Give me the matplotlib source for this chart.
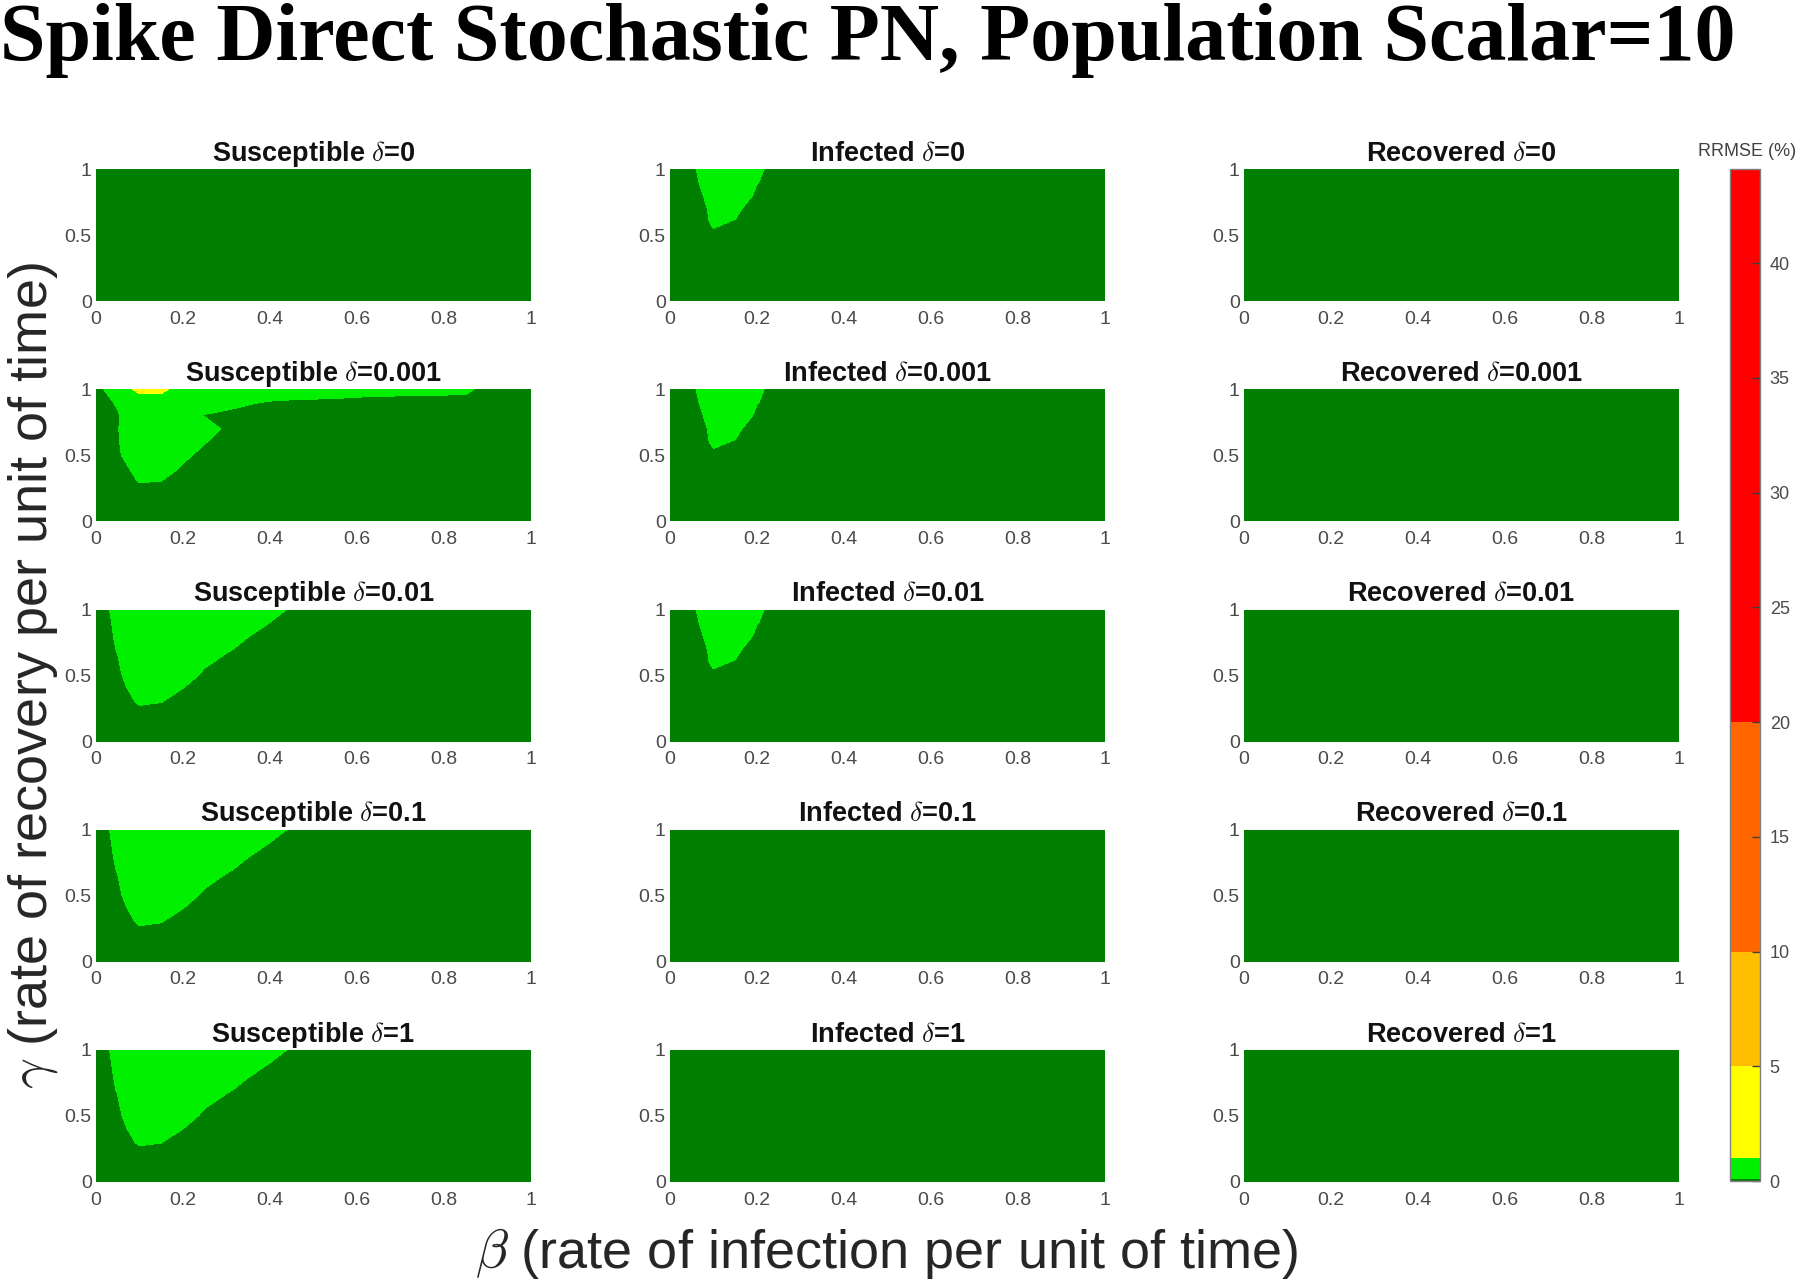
import matplotlib
matplotlib.use('Agg')
import matplotlib.pyplot as plt
import numpy as np

plt.rcParams.update({
    'font.family': ['Liberation Sans', 'DejaVu Sans'],
    'mathtext.fontset': 'cm',
})

# Data grid: beta (columns) and gamma (rows)
beta = np.arange(21) * 0.05
gamma = np.arange(11) * 0.1

row_vars = ['Susceptible', 'Infected', 'Recovered']
deltas = ['0', '0.001', '0.01', '0.1', '1']

# RRMSE (%); rows are gamma = 0.0, 0.1, ..., 1.0
# only the first columns (beta = 0, 0.05, ...) are listed, the rest are ~0
sus_wedge_rows = [
    [],
    [],
    [0, 0, 0.03],
    [0, 0, 0.125, 0.105],
    [0, 0, 0.225, 0.3, 0.095],
    [0, 0.05, 0.3, 0.3, 0.3, 0.015],
    [0, 0.085, 0.3, 0.3, 0.3, 0.165],
    [0, 0.11, 0.3, 0.3, 0.3, 0.3, 0.145],
    [0, 0.125, 0.3, 0.3, 0.3, 0.3, 0.3, 0.11],
    [0, 0.14, 0.3, 0.3, 0.3, 0.3, 0.3, 0.3, 0.095],
    [0, 0.16, 0.3, 0.3, 0.3, 0.3, 0.3, 0.3, 0.3, 0.037],
]
sus_001_rows = [
    [],
    [],
    [],
    [0, 0, 0.11, 0.095],
    [0, 0.02, 0.17, 0.3, 0.05],
    [0, 0.06, 0.3, 0.3, 0.18],
    [0, 0.08, 0.3, 0.3, 0.3, 0.115],
    [0, 0.09, 0.3, 0.3, 0.3, 0.3, 0.03],
    [0, 0.08, 0.3, 0.3, 0.3, 0.08],
    [0, 0.125, 0.3, 0.3, 0.3, 0.3, 0.25, 0.125, 0.078, 0.05, 0.033, 0.015],
    [0, 0.295, 1.35, 1.35, 0.3, 0.3, 0.3, 0.3, 0.3, 0.3, 0.3, 0.3,
     0.25, 0.22, 0.2, 0.19, 0.18, 0.165],
]
inf_wedge_rows = [
    [],
    [],
    [],
    [],
    [],
    [0, 0, 0.075, 0.05],
    [0, 0, 0.125, 0.09],
    [0, 0, 0.14, 0.145],
    [0, 0, 0.19, 0.3, 0.05],
    [0, 0, 0.3, 0.3, 0.11],
    [0, 0.05, 0.3, 0.3, 0.15],
]
flat_rows = [[] for _ in gamma]

panel_maps = [
    [flat_rows, inf_wedge_rows, flat_rows],
    [sus_001_rows, inf_wedge_rows, flat_rows],
    [sus_wedge_rows, inf_wedge_rows, flat_rows],
    [sus_wedge_rows, flat_rows, flat_rows],
    [sus_wedge_rows, flat_rows, flat_rows],
]

levels = [0, 0.1, 1, 5, 10, 20, 44.1]
level_colors = ['#007F00', '#00F000', '#FFFF00', '#FFBF00', '#FF6600', '#FF0000']
cbar_ticks = [0, 5, 10, 15, 20, 25, 30, 35, 40]


def to_grid(rows):
    z = np.zeros((len(gamma), len(beta)))
    for i, r in enumerate(rows):
        z[i, :len(r)] = r
    return z


W, H = 1800, 1282
fig = plt.figure(figsize=(W / 100, H / 100), dpi=100)
fig.patch.set_facecolor('white')


def rect(left, top, w, h):
    return [left / W, 1 - (top + h) / H, w / W, h / H]


col_left = [96, 670, 1244]
tick_col = '#4a4a4a'
cs = None
for i, d in enumerate(deltas):
    top = 169 + 220.25 * i
    for j, var in enumerate(row_vars):
        ax = fig.add_axes(rect(col_left[j], top, 435, 132))
        z = to_grid(panel_maps[i][j])
        cs = ax.contourf(beta, gamma, z, levels=levels, colors=level_colors)
        ax.set_xlim(0, 1)
        ax.set_ylim(0, 1)
        ax.set_xticks([0, 0.2, 0.4, 0.6, 0.8, 1])
        ax.set_xticklabels(['0', '0.2', '0.4', '0.6', '0.8', '1'])
        ax.set_yticks([0, 0.5, 1])
        ax.set_yticklabels(['0', '0.5', '1'])
        ax.tick_params(length=0, labelsize=14, labelcolor=tick_col)
        ax.tick_params(axis='x', pad=7)
        ax.tick_params(axis='y', pad=3)
        for s in ax.spines.values():
            s.set_visible(False)
        ax.set_title(f'{var} $\\delta$={d}', fontsize=19.5, fontweight='bold',
                     pad=6, color='#111111')

# colorbar
cax = fig.add_axes(rect(1730, 169, 30, 1012))
cb = fig.colorbar(cs, cax=cax, spacing='proportional', ticks=cbar_ticks)
cb.outline.set_edgecolor('#808080')
cb.outline.set_linewidth(1.0)
cax.tick_params(direction='in', length=6, width=1, color='#404040',
                labelsize=13, labelcolor=tick_col, pad=7)
fig.text(1747 / W, 1 - 151 / H, 'RRMSE (%)', fontsize=13, ha='center',
         va='center', color='#404040')

# titles and axis labels
fig.text(0.0, 1 - 60 / H, 'Spike Direct Stochastic PN, Population Scalar=10',
         family='Liberation Serif', fontweight='bold', fontsize=59,
         ha='left', va='baseline')
fig.text(887 / W, 1 - 1268 / H, r'$\beta$ (rate of infection per unit of time)',
         fontsize=39, ha='center', va='baseline', color='#262626')
fig.text(33 / W, 1 - 676 / H, r'$\gamma$ (rate of recovery per unit of time)',
         fontsize=39, rotation=90, ha='center', va='center', color='#262626')

fig.savefig('out.png', dpi=100, facecolor='white')
